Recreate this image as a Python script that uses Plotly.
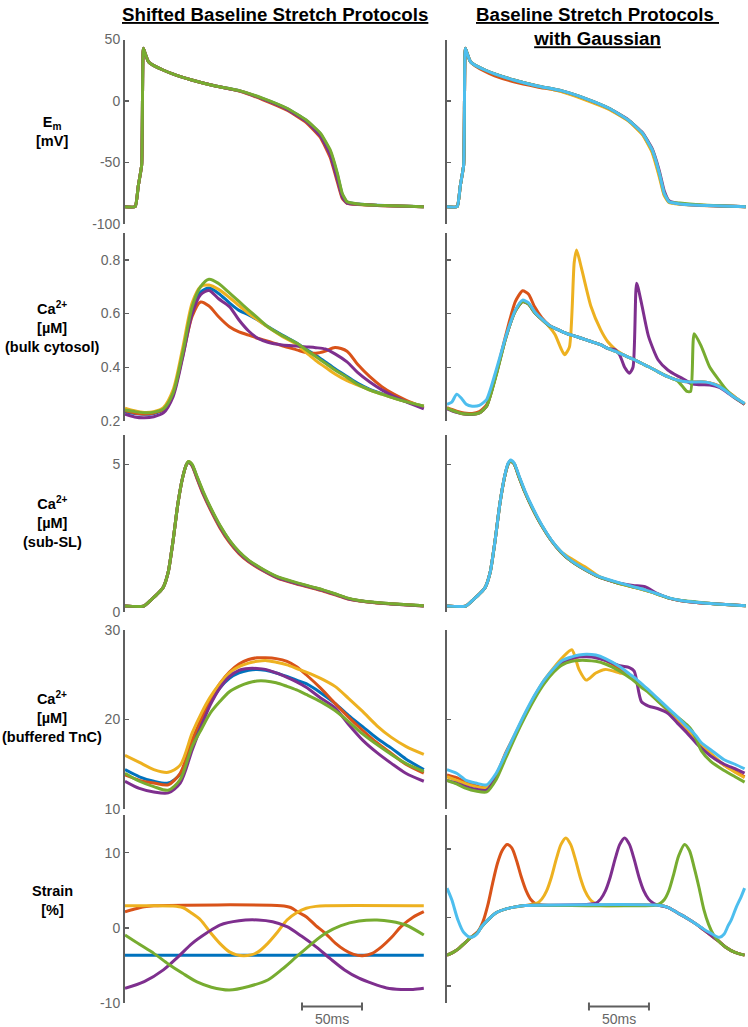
import plotly.graph_objects as go

# ---------------- colours (MATLAB default order) ----------------
C_BLUE, C_RED, C_YEL, C_PUR, C_GRN, C_LBL = "#0072BD", "#D95319", "#EDB120", "#7E2F8E", "#77AC30", "#4DBEEE"

col_titles = ["Shifted Baseline Stretch Protocols", "Baseline Stretch Protocols ", "with Gaussian"]
row_labels = [
    "<b>E<sub>m</sub><br>[mV]</b>",
    "<b>Ca<sup>2+</sup><br>[µM]<br>(bulk cytosol)</b>",
    "<b>Ca<sup>2+</sup><br>[µM]<br>(sub-SL)</b>",
    "<b>Ca<sup>2+</sup><br>[µM]<br>(buffered TnC)</b>",
    "<b>Strain<br>[%]</b>",
]
scale_label = "50ms"

# ---------------- Row 1: membrane potential (mV) ----------------
em_t = [0, 8.5, 11, 13.9, 15.3, 17, 19, 21, 23.6, 31.7, 39.7, 55.6, 75.4, 95.2, 115, 135, 151, 163, 171, 177, 181, 185, 194, 210, 249]
emL_blue = [-85.9, -85.9, -69.5, -52, 42.8, 38, 33, 30.5, 29, 25.2, 22, 17.1, 12.2, 8.4, 2.0, -6.2, -15.8, -27, -41, -60, -76, -82.2, -83.8, -84.8, -85.9]
emL_red = [-85.9, -85.9, -69.5, -52, 42.8, 38, 33, 30.5, 29, 25.2, 22, 17.1, 12.2, 8.0, 1.0, -7.5, -17.5, -30, -46, -66, -79, -83.3, -84.2, -85.0, -85.9]
emL_yel = [-85.9, -85.9, -69.5, -52, 42.8, 38, 33, 30.5, 29, 25.2, 22, 17.1, 12.2, 8.3, 1.8, -6.5, -16.2, -28, -43, -62, -77, -82.7, -84.0, -84.9, -85.9]
emL_pur = [-85.9, -85.9, -69.5, -52, 42.8, 38, 33, 30.5, 29, 25.2, 22, 17.1, 12.2, 8.2, 1.5, -6.8, -16.6, -28.8, -44, -64, -78, -83.0, -84.0, -84.9, -85.9]
emL_grn = [-85.9, -85.9, -69.5, -52, 42.8, 38, 33, 30.5, 29, 25.2, 22, 17.1, 12.2, 8.4, 2.2, -5.9, -15.4, -26.3, -39.8, -58.8, -75, -81.9, -83.7, -84.8, -85.9]
emR_red = [-85.9, -85.9, -69.5, -52, 42.8, 38, 33, 30.5, 28.5, 24.0, 20.4, 15.6, 11.4, 7.9, 1.8, -6.2, -15.8, -27, -41, -60, -76, -82.2, -83.8, -84.8, -85.9]
emR_yel = [-85.9, -85.9, -69.5, -52, 42.8, 38, 33, 30.5, 29, 25.2, 22, 17.1, 12.2, 7.6, 1.0, -6.8, -16.2, -27.6, -42, -62, -77, -82.6, -84.0, -84.9, -85.9]
emR_pur = [-85.9, -85.9, -69.5, -52, 42.8, 38, 33, 30.5, 29, 25.2, 22, 17.1, 12.2, 8.4, 2.2, -5.9, -15.2, -25.8, -38.8, -57, -73, -81.0, -83.6, -84.8, -85.9]
emR_grn = [-85.9, -85.9, -69.5, -52, 42.8, 38, 33, 30.5, 29, 25.2, 22, 17.1, 12.2, 8.4, 2.2, -5.9, -15.4, -26.3, -39.8, -58.8, -75, -81.9, -83.0, -84.3, -85.9]
emR_lbl = [-85.9, -85.9, -69.5, -52, 42.8, 38, 33, 30.5, 29, 25.2, 22, 17.1, 12.2, 8.4, 2.2, -5.9, -15.4, -26.3, -39.8, -58.8, -75, -81.9, -83.7, -84.8, -85.9]

# ---------------- Row 2: bulk cytosol Ca (uM) ----------------
bulkL_t = [0, 8, 16, 24, 32, 40, 48, 56, 63, 70, 78, 87, 95, 103, 111, 119, 131, 143, 151, 159, 167, 175, 185, 194, 204, 214, 224, 234, 249]
bulkL_blue = [0.235, 0.228, 0.225, 0.228, 0.242, 0.300, 0.450, 0.615, 0.680, 0.695, 0.675, 0.640, 0.612, 0.595, 0.575, 0.552, 0.520, 0.490, 0.467, 0.445, 0.420, 0.395, 0.366, 0.340, 0.318, 0.302, 0.286, 0.272, 0.255]
bulkL_red = [0.238, 0.230, 0.226, 0.230, 0.243, 0.300, 0.440, 0.590, 0.643, 0.628, 0.588, 0.551, 0.532, 0.520, 0.507, 0.497, 0.480, 0.465, 0.455, 0.452, 0.460, 0.474, 0.460, 0.410, 0.365, 0.328, 0.300, 0.278, 0.250]
bulkL_yel = [0.248, 0.238, 0.232, 0.235, 0.250, 0.315, 0.470, 0.640, 0.700, 0.706, 0.690, 0.660, 0.630, 0.600, 0.575, 0.550, 0.515, 0.485, 0.455, 0.425, 0.400, 0.375, 0.350, 0.334, 0.315, 0.300, 0.285, 0.272, 0.255]
bulkL_pur = [0.225, 0.215, 0.212, 0.216, 0.230, 0.290, 0.435, 0.600, 0.670, 0.686, 0.655, 0.626, 0.576, 0.535, 0.507, 0.493, 0.483, 0.479, 0.476, 0.473, 0.468, 0.450, 0.420, 0.380, 0.345, 0.316, 0.292, 0.272, 0.245]
bulkL_grn = [0.241, 0.235, 0.231, 0.233, 0.245, 0.304, 0.453, 0.626, 0.700, 0.728, 0.712, 0.677, 0.645, 0.613, 0.582, 0.551, 0.518, 0.490, 0.465, 0.440, 0.415, 0.390, 0.362, 0.336, 0.315, 0.300, 0.285, 0.272, 0.255]

bulkR_t = [0, 4, 8, 12, 16, 21, 27, 33, 41, 49, 57, 63, 68, 73, 79, 85, 90, 95, 98, 102, 106, 108, 112, 120, 128, 134, 140, 144, 148, 152, 155, 158, 162, 168, 176, 184, 192, 196, 200, 203, 206, 212, 219, 227, 233, 239, 248]
bulkR_red = [0.250, 0.243, 0.237, 0.232, 0.229, 0.228, 0.235, 0.260, 0.375, 0.520, 0.645, 0.685, 0.672, 0.625, 0.585, 0.558, 0.545, 0.535, 0.529, 0.522, 0.517, 0.514, 0.508, 0.496, 0.484, 0.470, 0.460, 0.452, 0.444, 0.436, 0.430, 0.424, 0.415, 0.402, 0.383, 0.365, 0.352, 0.348, 0.346, 0.345, 0.345, 0.346, 0.342, 0.330, 0.312, 0.292, 0.262]
bulkR_yel = [0.248, 0.240, 0.233, 0.228, 0.225, 0.224, 0.230, 0.255, 0.375, 0.510, 0.610, 0.645, 0.635, 0.604, 0.578, 0.552, 0.522, 0.470, 0.447, 0.475, 0.790, 0.837, 0.770, 0.626, 0.540, 0.495, 0.468, 0.455, 0.444, 0.436, 0.430, 0.424, 0.415, 0.402, 0.383, 0.365, 0.352, 0.348, 0.346, 0.345, 0.345, 0.346, 0.342, 0.330, 0.312, 0.292, 0.262]
bulkR_pur = [0.245, 0.238, 0.232, 0.228, 0.225, 0.224, 0.230, 0.255, 0.375, 0.510, 0.610, 0.645, 0.635, 0.604, 0.578, 0.555, 0.545, 0.535, 0.529, 0.522, 0.517, 0.514, 0.508, 0.496, 0.484, 0.470, 0.466, 0.445, 0.400, 0.378, 0.400, 0.713, 0.640, 0.514, 0.427, 0.390, 0.368, 0.359, 0.348, 0.340, 0.337, 0.335, 0.334, 0.325, 0.308, 0.288, 0.262]
bulkR_grn = [0.248, 0.240, 0.234, 0.228, 0.226, 0.225, 0.230, 0.255, 0.370, 0.510, 0.610, 0.645, 0.635, 0.604, 0.578, 0.555, 0.545, 0.535, 0.529, 0.522, 0.517, 0.514, 0.508, 0.496, 0.484, 0.470, 0.460, 0.452, 0.444, 0.436, 0.430, 0.424, 0.415, 0.402, 0.383, 0.365, 0.350, 0.330, 0.310, 0.310, 0.525, 0.477, 0.400, 0.350, 0.315, 0.290, 0.265]
bulkR_lbl = [0.262, 0.270, 0.300, 0.285, 0.262, 0.255, 0.258, 0.280, 0.390, 0.514, 0.613, 0.650, 0.640, 0.607, 0.580, 0.557, 0.545, 0.535, 0.529, 0.522, 0.517, 0.514, 0.508, 0.496, 0.484, 0.470, 0.460, 0.452, 0.444, 0.436, 0.430, 0.424, 0.415, 0.402, 0.383, 0.365, 0.352, 0.348, 0.346, 0.345, 0.345, 0.346, 0.342, 0.328, 0.310, 0.290, 0.265]

# ---------------- Row 3: sub-sarcolemmal Ca (uM) ----------------
ssl_t = [0, 15.5, 22, 28, 32, 36, 40, 44, 48, 51, 53, 56, 60, 65, 71, 79, 87, 95, 103, 115, 127, 141, 155, 165, 175, 185, 194, 208, 222, 249]
sslL_blue = [0.2, 0.2, 0.42, 0.65, 0.85, 1.35, 2.4, 3.65, 4.55, 4.98, 5.09, 4.98, 4.57, 4.06, 3.54, 2.92, 2.42, 2.03, 1.74, 1.43, 1.18, 1.00, 0.85, 0.74, 0.61, 0.47, 0.39, 0.32, 0.28, 0.21]
sslL_red = [0.2, 0.2, 0.42, 0.65, 0.85, 1.35, 2.4, 3.65, 4.55, 4.98, 5.08, 4.95, 4.52, 4.00, 3.48, 2.86, 2.36, 1.98, 1.70, 1.40, 1.15, 0.97, 0.82, 0.71, 0.58, 0.45, 0.38, 0.31, 0.27, 0.20]
sslL_yel = [0.2, 0.2, 0.42, 0.65, 0.85, 1.35, 2.4, 3.65, 4.55, 4.98, 5.10, 4.98, 4.57, 4.06, 3.54, 2.92, 2.42, 2.03, 1.74, 1.43, 1.18, 1.00, 0.85, 0.74, 0.61, 0.47, 0.39, 0.32, 0.28, 0.21]
sslL_pur = [0.2, 0.2, 0.42, 0.65, 0.85, 1.35, 2.4, 3.65, 4.55, 4.98, 5.08, 4.96, 4.55, 4.04, 3.52, 2.90, 2.40, 2.01, 1.73, 1.42, 1.17, 0.99, 0.84, 0.73, 0.60, 0.46, 0.39, 0.32, 0.27, 0.20]
sslL_grn = [0.2, 0.2, 0.42, 0.65, 0.85, 1.35, 2.4, 3.65, 4.55, 4.98, 5.10, 5.00, 4.60, 4.10, 3.57, 2.95, 2.44, 2.05, 1.76, 1.45, 1.20, 1.02, 0.86, 0.75, 0.62, 0.48, 0.40, 0.33, 0.28, 0.21]
sslR_red = [0.2, 0.2, 0.42, 0.65, 0.85, 1.35, 2.4, 3.65, 4.58, 5.02, 5.12, 5.02, 4.58, 4.06, 3.53, 2.92, 2.42, 2.03, 1.74, 1.43, 1.18, 1.00, 0.85, 0.74, 0.61, 0.47, 0.39, 0.32, 0.28, 0.21]
sslR_yel = [0.2, 0.2, 0.42, 0.65, 0.85, 1.35, 2.4, 3.65, 4.58, 5.02, 5.12, 5.02, 4.58, 4.06, 3.53, 2.92, 2.42, 2.05, 1.82, 1.53, 1.20, 1.00, 0.85, 0.74, 0.61, 0.47, 0.39, 0.32, 0.28, 0.21]
sslR_pur = [0.2, 0.2, 0.42, 0.65, 0.85, 1.35, 2.4, 3.65, 4.58, 5.02, 5.12, 5.02, 4.58, 4.06, 3.53, 2.92, 2.42, 2.03, 1.74, 1.43, 1.18, 1.00, 0.90, 0.86, 0.63, 0.47, 0.39, 0.32, 0.28, 0.21]
sslR_grn = [0.2, 0.2, 0.42, 0.65, 0.85, 1.35, 2.4, 3.65, 4.58, 5.02, 5.12, 5.02, 4.58, 4.06, 3.53, 2.92, 2.42, 2.03, 1.74, 1.43, 1.18, 1.00, 0.85, 0.74, 0.61, 0.47, 0.40, 0.34, 0.28, 0.21]
sslR_lbl = [0.2, 0.2, 0.42, 0.65, 0.85, 1.35, 2.4, 3.65, 4.60, 5.05, 5.15, 5.05, 4.62, 4.10, 3.57, 2.95, 2.44, 2.05, 1.76, 1.45, 1.20, 1.02, 0.86, 0.75, 0.62, 0.48, 0.40, 0.33, 0.28, 0.21]

# ---------------- Row 4: TnC-buffered Ca (uM) ----------------
tncL_t = [0, 12, 24, 36, 46, 56, 64, 71, 79, 87, 95, 103, 110, 117, 126, 135, 143, 151, 163, 175, 186, 198, 210, 222, 234, 249]
tncL_blue = [14.4, 13.6, 13.1, 12.9, 13.9, 17.3, 19.8, 21.8, 23.5, 24.6, 25.2, 25.5, 25.6, 25.5, 25.2, 24.8, 24.4, 24.0, 23.0, 21.8, 20.5, 19.2, 17.9, 16.8, 15.6, 14.4]
tncL_red = [13.8, 13.2, 12.9, 12.7, 14.0, 17.7, 20.2, 22.2, 24.0, 25.3, 26.2, 26.7, 26.9, 26.9, 26.8, 26.5, 25.9, 25.0, 23.5, 21.8, 20.3, 18.8, 17.4, 16.2, 15.0, 14.0]
tncL_yel = [16.0, 15.2, 14.4, 14.1, 14.9, 18.5, 20.8, 22.5, 24.0, 25.2, 25.9, 26.3, 26.5, 26.6, 26.4, 26.1, 25.7, 25.3, 24.6, 23.7, 22.4, 20.9, 19.3, 18.0, 17.0, 16.1]
tncL_pur = [13.1, 12.3, 11.9, 11.8, 12.9, 16.6, 19.4, 21.6, 23.5, 24.8, 25.5, 25.7, 25.7, 25.6, 25.2, 24.7, 24.2, 23.6, 22.4, 21.3, 19.5, 17.7, 16.3, 15.1, 14.0, 13.1]
tncL_grn = [14.0, 13.1, 12.5, 12.1, 13.3, 17.0, 19.0, 20.7, 22.0, 23.1, 23.7, 24.1, 24.3, 24.3, 24.1, 23.7, 23.3, 22.8, 22.0, 21.0, 19.8, 18.4, 17.2, 16.1, 15.1, 14.2]

tncR_t = [0, 8, 16, 24, 33, 41, 49, 57, 65, 73, 81, 89, 96, 104, 110, 116, 124, 132, 144, 152, 156, 162, 168, 176, 184, 192, 200, 204, 208, 212, 220, 231, 240, 248]
tncR_red = [13.8, 13.5, 13.0, 12.6, 12.4, 13.8, 16.3, 18.4, 20.5, 22.5, 24.2, 25.5, 26.4, 26.8, 27.0, 27.1, 27.0, 26.6, 25.7, 24.9, 24.5, 23.8, 23.1, 22.1, 21.0, 20.0, 18.9, 18.3, 17.7, 17.0, 16.0, 14.9, 14.2, 13.6]
tncR_yel = [13.6, 13.2, 12.8, 12.5, 12.4, 13.8, 16.1, 18.4, 20.6, 22.6, 24.4, 25.8, 26.9, 27.8, 25.6, 24.4, 25.2, 25.6, 25.2, 24.9, 24.6, 23.9, 23.2, 22.2, 21.1, 20.1, 19.0, 18.4, 17.8, 17.2, 16.2, 14.9, 14.1, 13.5]
tncR_pur = [13.2, 12.9, 12.5, 12.2, 12.1, 13.6, 16.0, 18.3, 20.5, 22.6, 24.3, 25.6, 26.4, 26.8, 27.0, 27.0, 26.9, 26.6, 26.0, 25.8, 25.4, 22.0, 21.5, 21.2, 20.7, 19.6, 18.5, 17.9, 17.3, 16.8, 15.9, 15.0, 14.5, 14.0]
tncR_grn = [13.2, 12.8, 12.3, 12.0, 11.9, 13.3, 15.7, 18.1, 20.3, 22.3, 24.0, 25.3, 26.1, 26.5, 26.6, 26.6, 26.5, 26.2, 25.4, 24.7, 24.3, 23.6, 23.0, 22.0, 21.1, 20.3, 19.4, 18.8, 17.7, 16.5, 15.3, 14.3, 13.6, 13.0]
tncR_lbl = [14.4, 14.0, 13.2, 12.9, 12.7, 14.0, 16.2, 18.5, 20.7, 22.7, 24.4, 25.7, 26.6, 27.0, 27.2, 27.3, 27.2, 26.8, 25.9, 25.1, 24.7, 24.0, 23.3, 22.3, 21.3, 20.3, 19.2, 18.7, 18.1, 17.4, 16.6, 15.5, 15.0, 14.5]

# ---------------- Row 5: strain (%) ----------------
strL_blue_t = [0, 249]
strL_blue = [-3.65, -3.65]
strL_red_t = [0, 8, 16, 24, 130, 138, 145, 151, 159, 167, 175, 183, 190, 198, 206, 214, 222, 230, 240, 249]
strL_red = [2.14, 2.5, 2.8, 2.94, 2.94, 2.7, 2.0, 1.48, 0.3, -0.73, -2.0, -2.95, -3.5, -3.71, -3.4, -2.5, -1.3, 0.15, 1.4, 2.14]
strL_yel_t = [0, 20, 40, 48, 55, 63, 71, 79, 87, 93, 99, 105, 111, 119, 127, 135, 143, 151, 159, 167, 249]
strL_yel = [2.94, 2.94, 2.9, 2.7, 2.0, 1.04, -0.6, -2.07, -3.2, -3.6, -3.71, -3.6, -3.2, -2.07, -0.6, 1.04, 2.0, 2.6, 2.85, 2.94, 2.94]
strL_pur_t = [0, 16, 32, 44, 56, 68, 79, 95, 111, 123, 135, 147, 159, 171, 183, 195, 206, 218, 230, 240, 249]
strL_pur = [-8.05, -7.17, -5.6, -3.9, -2.07, -0.7, 0.37, 0.95, 1.04, 0.8, 0.15, -1.1, -2.5, -4.1, -5.6, -6.7, -7.4, -8.0, -8.2, -8.2, -8.05]
strL_grn_t = [0, 12, 24, 36, 48, 60, 72, 87, 103, 119, 131, 143, 155, 167, 180, 195, 210, 222, 234, 249]
strL_grn = [-0.96, -2.2, -3.4, -4.8, -6.05, -7.2, -7.9, -8.27, -7.8, -6.94, -5.5, -3.84, -2.2, -0.73, 0.3, 0.9, 1.04, 0.85, 0.37, -0.96]

strR_red_t = [0, 5, 10, 15, 20, 26, 30, 34, 38, 42, 46, 50, 54, 58, 62, 66, 70, 74, 80, 176, 184, 192, 200, 208, 214, 220, 226, 232, 240, 248]
strR_red = [-5.5, -5.1, -4.5, -3.7, -2.9, -2.0, -0.6, 1.8, 5.0, 7.9, 9.8, 10.7, 10.2, 8.3, 5.9, 3.9, 2.6, 2.0, 1.8, 1.8, 1.5, 0.7, -0.1, -1.0, -1.8, -2.6, -3.4, -4.3, -5.1, -5.5]
strR_yel_t = [0, 5, 10, 15, 20, 25, 29, 35, 41, 50, 57, 65, 75, 79, 83, 87, 91, 95, 99, 103, 107, 111, 115, 119, 123, 127, 176, 184, 192, 200, 208, 214, 220, 226, 232, 240, 248]
strR_yel = [-5.5, -5.1, -4.5, -3.7, -2.9, -2.3, -1.3, -0.2, 0.7, 1.3, 1.56, 1.75, 2.1, 2.7, 3.9, 5.9, 8.5, 10.7, 11.65, 10.7, 8.5, 5.9, 3.9, 2.7, 2.1, 1.8, 1.8, 1.5, 0.7, -0.1, -1.0, -1.8, -2.6, -3.4, -4.3, -5.1, -5.5]
strR_pur_t = [0, 5, 10, 15, 20, 25, 29, 35, 41, 50, 57, 65, 75, 124, 128, 132, 136, 140, 144, 148, 152, 156, 160, 164, 168, 172, 176, 184, 192, 200, 208, 214, 220, 226, 232, 240, 248]
strR_pur = [-5.5, -5.1, -4.5, -3.7, -2.9, -2.3, -1.3, -0.2, 0.7, 1.3, 1.56, 1.75, 1.8, 2.1, 2.7, 3.9, 5.9, 8.5, 10.7, 11.65, 10.7, 8.5, 5.9, 3.9, 2.7, 2.1, 1.8, 1.5, 0.7, -0.1, -1.0, -1.8, -2.6, -3.4, -4.3, -5.1, -5.5]
strR_grn_t = [0, 5, 10, 15, 20, 25, 29, 35, 41, 50, 57, 65, 75, 173, 177, 181, 185, 189, 193, 198, 202, 206, 210, 214, 218, 222, 226, 232, 240, 248]
strR_grn = [-5.5, -5.1, -4.5, -3.7, -2.9, -2.3, -1.3, -0.2, 0.7, 1.3, 1.56, 1.75, 1.8, 1.8, 2.0, 2.6, 4.0, 6.4, 9.0, 10.7, 9.8, 7.3, 4.4, 1.2, -1.0, -2.5, -3.4, -4.3, -5.1, -5.5]
strR_lbl_t = [0, 4, 9, 14, 20, 25, 29, 35, 41, 50, 57, 65, 75, 176, 184, 192, 200, 208, 214, 219, 227, 231, 234, 237, 241, 245, 248]
strR_lbl = [4.3, 2.6, -0.3, -2.2, -2.9, -2.4, -1.3, -0.2, 0.7, 1.3, 1.56, 1.75, 1.8, 1.8, 1.5, 0.7, -0.1, -1.0, -1.7, -2.2, -2.9, -2.4, -1.3, -0.3, 1.5, 3.0, 4.3]

# ---------------- axes ----------------
y_ranges = [[-100, 50], [0.2, 0.9], [0, 6], [10, 30]]
strain_range_left = [-10, 15]
strain_range_right = [-12.5, 15]
tick_vals = [[-100, -50, 0, 50], [0.2, 0.4, 0.6, 0.8], [0, 5], [10, 20, 30], [-10, 0, 10]]
tick_text = [["-100", "-50", "0", "50"], ["0.2", "0.4", "0.6", "0.8"], ["0", "5"], ["10", "20", "30"], ["-10", "0", "10"]]
end_ticks = [[], [0.9], [], [], []]
time_range = [0, 250]
scale_bar_ms = 50
scale_bar_start_left = 147.5
scale_bar_start_right = 118.3

# ---------------- layout geometry (pixels) ----------------
W, H = 748, 1027
x_px = [(125, 425), (447, 747)]
y_px = [(39.5, 224), (233, 421), (435, 612), (630, 809), (815, 1003)]
AX = "#5f5f5f"
TICKC = "#666666"
FONT = "Liberation Sans"

fig = go.Figure()


def ax_id(r, c):
    return 2 * r + c + 1


def add(r, c, t, v, color, smooth=0.8):
    i = ax_id(r, c)
    fig.add_trace(go.Scatter(
        x=t, y=v, mode="lines",
        line=dict(color=color, width=3, shape="spline", smoothing=smooth),
        xaxis="x" if i == 1 else f"x{i}", yaxis="y" if i == 1 else f"y{i}",
        hoverinfo="skip", showlegend=False))


LEFT_COLS = [C_BLUE, C_RED, C_YEL, C_PUR, C_GRN]
RIGHT_COLS = [C_RED, C_YEL, C_PUR, C_GRN, C_LBL]

for v, col in zip([emL_blue, emL_red, emL_yel, emL_pur, emL_grn], LEFT_COLS):
    add(0, 0, em_t, v, col, 0.4)
for v, col in zip([bulkL_blue, bulkL_red, bulkL_yel, bulkL_pur, bulkL_grn], LEFT_COLS):
    add(1, 0, bulkL_t, v, col)
for v, col in zip([sslL_blue, sslL_red, sslL_yel, sslL_pur, sslL_grn], LEFT_COLS):
    add(2, 0, ssl_t, v, col, 0.6)
for v, col in zip([tncL_blue, tncL_red, tncL_yel, tncL_pur, tncL_grn], LEFT_COLS):
    add(3, 0, tncL_t, v, col)
for t, v, col in zip([strL_blue_t, strL_red_t, strL_yel_t, strL_pur_t, strL_grn_t],
                     [strL_blue, strL_red, strL_yel, strL_pur, strL_grn], LEFT_COLS):
    add(4, 0, t, v, col)

for v, col in zip([emR_red, emR_yel, emR_pur, emR_grn, emR_lbl], RIGHT_COLS):
    add(0, 1, em_t, v, col, 0.4)
for v, col in zip([bulkR_red, bulkR_yel, bulkR_pur, bulkR_grn, bulkR_lbl], RIGHT_COLS):
    add(1, 1, bulkR_t, v, col, 0.6)
for v, col in zip([sslR_red, sslR_yel, sslR_pur, sslR_grn, sslR_lbl], RIGHT_COLS):
    add(2, 1, ssl_t, v, col, 0.6)
for v, col in zip([tncR_red, tncR_yel, tncR_pur, tncR_grn, tncR_lbl], RIGHT_COLS):
    add(3, 1, tncR_t, v, col, 0.7)
for t, v, col in zip([strR_red_t, strR_yel_t, strR_pur_t, strR_grn_t, strR_lbl_t],
                     [strR_red, strR_yel, strR_pur, strR_grn, strR_lbl], RIGHT_COLS):
    add(4, 1, t, v, col)

layout = dict(
    width=W, height=H, margin=dict(l=0, r=0, t=0, b=0, autoexpand=False),
    paper_bgcolor="white", plot_bgcolor="white", showlegend=False,
    font=dict(family=FONT, color="#000"),
)
for r in range(5):
    for c in range(2):
        i = ax_id(r, c)
        xk = "xaxis" if i == 1 else f"xaxis{i}"
        yk = "yaxis" if i == 1 else f"yaxis{i}"
        layout[xk] = dict(domain=[x_px[c][0] / W, x_px[c][1] / W], range=time_range, visible=False,
                          anchor="y" if i == 1 else f"y{i}", fixedrange=True)
        if r < 4:
            yr = y_ranges[r]
        else:
            yr = strain_range_left if c == 0 else strain_range_right
        yd = dict(
            domain=[1 - y_px[r][1] / H, 1 - y_px[r][0] / H], range=yr,
            anchor="x" if i == 1 else f"x{i}",
            showline=True, linecolor=AX, linewidth=2, mirror=False,
            showgrid=False, zeroline=False, automargin=False,
            ticks="inside", ticklen=4, tickwidth=1.5, tickcolor=AX,
            tickmode="array", tickvals=tick_vals[r], ticktext=tick_text[r],
            showticklabels=(c == 0), tickfont=dict(family=FONT, size=14, color=TICKC),
            fixedrange=True,
        )
        if end_ticks[r]:
            yd["minor"] = dict(tickvals=end_ticks[r], ticks="inside", ticklen=4, tickwidth=1.5,
                               tickcolor=AX, showgrid=False)
        layout[yk] = yd

annotations = []
annotations.append(dict(text=f"<b><u>{col_titles[0]}</u></b>", x=sum(x_px[0]) / 2 / W, y=1 - 2 / H,
                        xref="paper", yref="paper", xanchor="center", yanchor="top", showarrow=False,
                        font=dict(family=FONT, size=18.7, color="#000")))
annotations.append(dict(text=f"<b><u>{col_titles[1]}</u></b><br><b><u>{col_titles[2]}</u></b>",
                        x=sum(x_px[1]) / 2 / W, y=1 - 2 / H,
                        xref="paper", yref="paper", xanchor="center", yanchor="top", showarrow=False,
                        font=dict(family=FONT, size=18.7, color="#000")))
label_centers = [132, 327, 522, 717, 900]
for r, lab in enumerate(row_labels):
    annotations.append(dict(text=lab, x=52 / W, y=1 - label_centers[r] / H, xref="paper", yref="paper",
                            xanchor="center", yanchor="middle", showarrow=False, align="center",
                            font=dict(family=FONT, size=14.5, color="#000")))

shapes = []
bar_y, cap = 1006.5, 4
for c, start in [(0, scale_bar_start_left), (1, scale_bar_start_right)]:
    xr = "x9" if c == 0 else "x10"
    end = start + scale_bar_ms
    yb = 1 - bar_y / H
    shapes.append(dict(type="line", xref=xr, yref="paper", x0=start, x1=end, y0=yb, y1=yb,
                       line=dict(color=AX, width=2)))
    for xx in (start, end):
        shapes.append(dict(type="line", xref=xr, yref="paper", x0=xx, x1=xx,
                           y0=1 - (bar_y - cap) / H, y1=1 - (bar_y + cap) / H, line=dict(color=AX, width=2)))
    annotations.append(dict(text=scale_label, xref=xr, yref="paper", x=start + scale_bar_ms / 2,
                            y=1 - 1009 / H, xanchor="center", yanchor="top", showarrow=False,
                            font=dict(family=FONT, size=14, color=TICKC)))

layout["annotations"] = annotations
layout["shapes"] = shapes
fig.update_layout(**layout)
fig.write_html("out.html", config={"displayModeBar": False, "staticPlot": True},
               post_script="document.body.style.margin='0';document.body.style.overflow='hidden';")
